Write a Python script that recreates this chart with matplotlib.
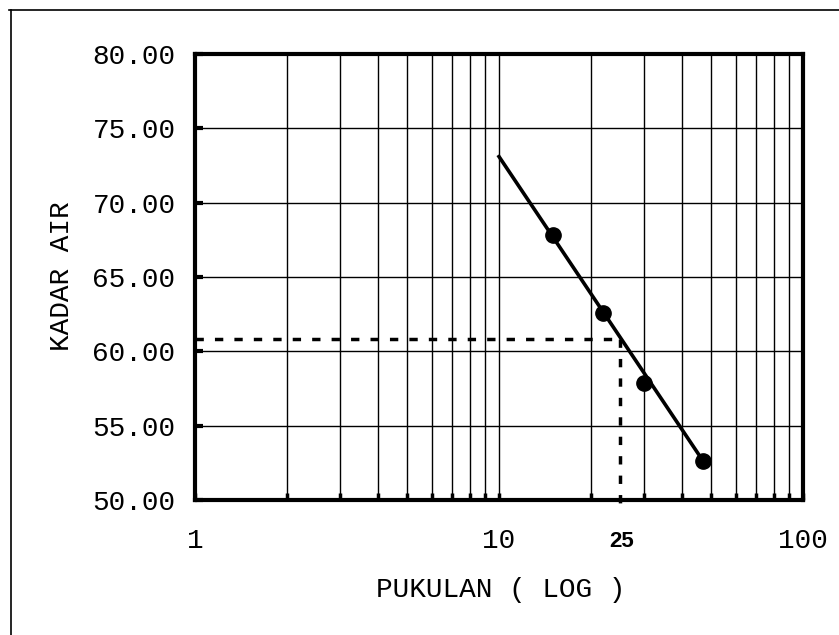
import numpy as np
import matplotlib
matplotlib.use("Agg")
import matplotlib.pyplot as plt
from matplotlib.lines import Line2D

# data
pukulan = [15, 22, 30, 47]
kadar_air = [67.8, 62.6, 57.9, 52.6]
line_x = [10, 47]
line_y = [73.1, 52.6]
n25 = 25
ka25 = 60.8

x_major = [1, 10, 100]
x_major_labels = ["1", "10", "100"]
x_minor = [2, 3, 4, 5, 6, 7, 8, 9, 20, 30, 40, 50, 60, 70, 80, 90]
y_ticks = [50, 55, 60, 65, 70, 75, 80]

plt.rcParams['font.family'] = ['Liberation Mono', 'DejaVu Sans']

fig = plt.figure(figsize=(8.39, 6.35), dpi=100)
ax = fig.add_axes([195/839, 135/635, 608/839, 446/635])

ax.set_xscale('log')
ax.set_xlim(1, 100)
ax.set_ylim(50, 80)

ax.set_xticks(x_major)
ax.set_xticklabels(x_major_labels)
ax.set_xticks(x_minor, minor=True)
ax.xaxis.set_minor_formatter(plt.NullFormatter())
ax.set_yticks(y_ticks)
ax.set_yticklabels(["%.2f" % v for v in y_ticks])

ax.grid(True, which='both', axis='x', color='black', lw=1.0)
ax.grid(True, which='major', axis='y', color='black', lw=1.0)

ax.tick_params(axis='x', which='both', direction='in', length=5, width=2.5,
               labelsize=20, pad=20, top=False)
ax.tick_params(axis='y', which='major', direction='in', length=6, width=3,
               labelsize=20, pad=14, right=False)
for sp in ax.spines.values():
    sp.set_linewidth(3)

# fitted line and points
ax.plot(line_x, line_y, color='black', lw=2.6, zorder=4)
ax.plot(pukulan, kadar_air, 'o', color='black', ms=11, zorder=5)

# 25 blows reading
ax.plot([1, n25], [ka25, ka25], color='black', lw=2.5, ls=(0, (2.4, 3.2)), zorder=4)
ax.plot([n25, n25], [ka25, 49.5], color='black', lw=2.5, ls=(0, (2.4, 3.2)),
        zorder=4, clip_on=False)
ax.text(n25 * 1.01, -0.093, "25", transform=ax.get_xaxis_transform(), ha='center',
        va='center', fontsize=16, fontweight='bold', family='Liberation Sans')

ax.set_xlabel("PUKULAN ( LOG )", fontsize=20)
ax.xaxis.set_label_coords(0.502, -0.202)
ax.xaxis.label.set_va('center')
ax.set_ylabel("KADAR AIR", fontsize=20)
ax.yaxis.set_label_coords(-0.219, 0.502)
ax.yaxis.label.set_va('center')

# page frame
fig.add_artist(Line2D([9/839, 1], [1 - 10/635, 1 - 10/635], color='black', lw=1.2,
                      transform=fig.transFigure))
fig.add_artist(Line2D([11/839, 11/839], [0, 1 - 10/635], color='black', lw=1.2,
                      transform=fig.transFigure))

fig.savefig("out.png", dpi=100)
